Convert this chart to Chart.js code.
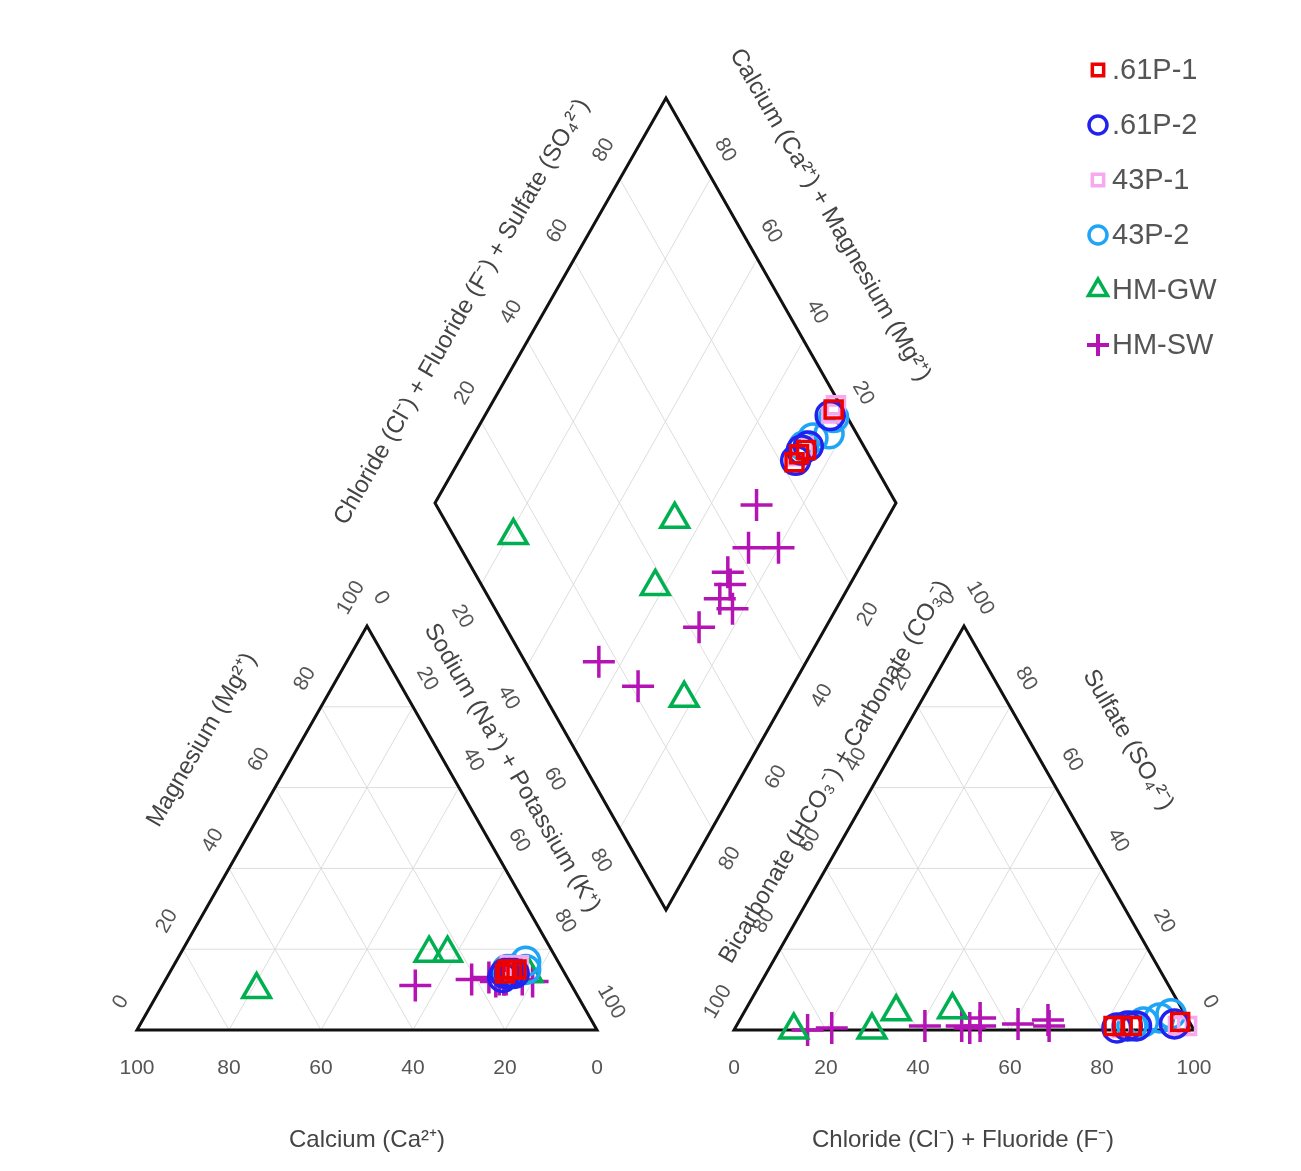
<!DOCTYPE html>
<html><head><meta charset="utf-8">
<script src="https://cdn.jsdelivr.net/npm/chart.js@4"></script>
<style>html,body{margin:0;padding:0;background:#fff}#wrap{width:1301px;height:1171px}</style>
</head><body><div id="wrap"><canvas id="c"></canvas></div>
<script>
// ---- data (fractions in %) ----
const seriesNames = ['.61P-1','.61P-2','43P-1','43P-2','HM-GW','HM-SW'];
// cations
const ca_61P1=[12,13,11,10], mg_61P1=[15,14,15,15], na_61P1=[73,73,74,75];
const ca_61P2=[13,14,12,11], mg_61P2=[14,13,14,14], na_61P2=[73,73,74,75];
const ca_43P1=[10,12,11,9],  mg_43P1=[15,15,16,16], na_43P1=[75,73,73,75];
const ca_43P2=[7,8,12,11],   mg_43P2=[17,15,15,15], na_43P2=[76,77,73,74];
const ca_GW=[69,27,23,8],    mg_GW=[10,19,19,14],   na_GW=[21,54,58,78];
const ca_SW=[17,14,8,16,13.5,14,10,15,34,21];
const mg_SW=[13,12.5,12,12,12.5,12.5,12.5,12.5,11,12.5];
const na_SW=[70,73.5,80,72,74,73.5,77.5,72.5,55,66.5];
// anions
const cl_61P1=[84,82,86,96], so4_61P1=[1,1,1,2], hco3_61P1=[15,17,13,2];
const cl_61P2=[83,85,87,95], so4_61P2=[0.5,1,1,1.5], hco3_61P2=[16.5,14,12,3.5];
const cl_43P1=[96,84,86,98], so4_43P1=[1,0.5,1,1], hco3_43P1=[3,15.5,13,1];
const cl_43P2=[93,91,86,88], so4_43P2=[4,3,1,2], hco3_43P2=[3,6,13,10];
const cl_GW=[13,45,33,30],   so4_GW=[0,5,4.5,0], hco3_GW=[87,50,62.5,70];
const cl_SW=[67,61,68,52,53,49,51,41,16,21];
const so4_SW=[2.5,1.5,1,3,1,1,0.5,1,0,0.5];
const hco3_SW=[30.5,37.5,31,45,46,50,48.5,58,84,78.5];
const tickVals=[0,20,40,60,80,100];

// ---- geometry in chart units (scale = canvas px) ----
const CAT={L:[137,1030],R:[597,1030],A:[367,626]};
const AN={L:[734,1030],R:[1194,1030],A:[964,626]};
const DI={B:[666,910],R:[896,503],L:[435,503],T:[666,98]};
function tern(T,a,b,c){const s=a+b+c;a/=s;b/=s;c/=s;return {x:T.L[0]*a+T.R[0]*b+T.A[0]*c,y:T.L[1]*a+T.R[1]*b+T.A[1]*c};}
function dia(u,v){return {x:DI.B[0]+u*(DI.R[0]-DI.B[0])+v*(DI.L[0]-DI.B[0]),y:DI.B[1]+u*(DI.R[1]-DI.B[1])+v*(DI.L[1]-DI.B[1])};}
function pts(ca,mg,na,cl,so4,hco3){
  const out=[];
  ca.forEach((_,i)=>out.push(tern(CAT,ca[i],na[i],mg[i])));
  cl.forEach((_,i)=>out.push(tern(AN,hco3[i],cl[i],so4[i])));
  ca.forEach((_,i)=>{const cs=ca[i]+mg[i]+na[i],as=cl[i]+so4[i]+hco3[i];out.push(dia((cl[i]+so4[i])/as,(ca[i]+mg[i])/cs));});
  return out;
}
const styles=[
 {c:'#ee0000',s:'rect',r:12},{c:'#2222ee',s:'circle',r:14},{c:'#f7a8f0',s:'rect',r:12},
 {c:'#1ea5f5',s:'circle',r:14},{c:'#00b050',s:'triangle',r:16},{c:'#b414b4',s:'cross',r:16}];
const allData=[
 pts(ca_61P1,mg_61P1,na_61P1,cl_61P1,so4_61P1,hco3_61P1),
 pts(ca_61P2,mg_61P2,na_61P2,cl_61P2,so4_61P2,hco3_61P2),
 pts(ca_43P1,mg_43P1,na_43P1,cl_43P1,so4_43P1,hco3_43P1),
 pts(ca_43P2,mg_43P2,na_43P2,cl_43P2,so4_43P2,hco3_43P2),
 pts(ca_GW,mg_GW,na_GW,cl_GW,so4_GW,hco3_GW),
 pts(ca_SW,mg_SW,na_SW,cl_SW,so4_SW,hco3_SW)];
const FONT='"Liberation Sans", Arial, sans-serif';

const frame={id:'frame',beforeDatasetsDraw(ch){
  const g=ch.ctx,xs=ch.scales.x,ys=ch.scales.y;
  const P=p=>[xs.getPixelForValue(p.x!==undefined?p.x:p[0]),ys.getPixelForValue(p.y!==undefined?p.y:p[1])];
  const line=(a,b)=>{const A=P(a),B=P(b);g.beginPath();g.moveTo(A[0],A[1]);g.lineTo(B[0],B[1]);g.stroke();};
  g.save();
  g.strokeStyle='#dddddd';g.lineWidth=1;
  [CAT,AN].forEach(T=>{[20,40,60,80].forEach(k=>{
    line(tern(T,k,100-k,0),tern(T,k,0,100-k));
    line(tern(T,100-k,k,0),tern(T,0,k,100-k));
    line(tern(T,100-k,0,k),tern(T,0,100-k,k));
  });});
  [0.2,0.4,0.6,0.8].forEach(k=>{line(dia(k,0),dia(k,1));line(dia(0,k),dia(1,k));});
  g.strokeStyle='#111';g.lineWidth=3;g.lineJoin='miter';
  [CAT,AN].forEach(T=>{const a=P(T.L),b=P(T.R),c=P(T.A);g.beginPath();g.moveTo(...a);g.lineTo(...b);g.lineTo(...c);g.closePath();g.stroke();});
  {const a=P(DI.B),b=P(DI.R),c=P(DI.T),d=P(DI.L);g.beginPath();g.moveTo(...a);g.lineTo(...b);g.lineTo(...c);g.lineTo(...d);g.closePath();g.stroke();}
  // tick labels
  g.fillStyle='#555';g.font='21px '+FONT;g.textAlign='center';g.textBaseline='middle';
  const txt=(s,p,off,rot)=>{const q=P(p);g.save();g.translate(q[0]+off[0],q[1]+off[1]);g.rotate(rot*Math.PI/180);g.fillText(s,0,0);g.restore();};
  const along=(a,b,t)=>({x:a[0]+(b[0]-a[0])*t,y:a[1]+(b[1]-a[1])*t});
  tickVals.forEach(v=>{
    const t=v/100;
    txt(String(100-v),along(CAT.L,CAT.R,t),[0,38],0);
    txt(String(v),along(CAT.L,CAT.A,t),[-16,-28],-60);
    txt(String(v),along(CAT.A,CAT.R,t),[14,-28],60);
    txt(String(v),along(AN.L,AN.R,t),[0,38],0);
    txt(String(100-v),along(AN.L,AN.A,t),[-16,-28],-60);
    txt(String(100-v),along(AN.A,AN.R,t),[16,-28],60);
    if(v>0&&v<100){
      txt(String(v),along(DI.L,DI.T,t),[-16,-29],-60);
      txt(String(v),along(DI.R,DI.T,t),[13,-29],60);
      txt(String(v),along(DI.L,DI.B,t),[-19,32],60);
      txt(String(v),along(DI.R,DI.B,t),[18,30],-60);
    }
  });
  g.font='24px '+FONT;g.fillStyle='#444';
  const T=(s,x,y,r)=>txt(s,[x,y],[0,0],r);
  T('Calcium (Ca²⁺)',367,1140,0);
  T('Chloride (Cl⁻) + Fluoride (F⁻)',963,1140,0);
  T('Magnesium (Mg²⁺)',202,740,-60);
  T('Sodium (Na⁺) + Potassium (K⁺)',512,768,60);
  T('Bicarbonate (HCO₃⁻) + Carbonate (CO₃⁻)',835,772,-60);
  T('Sulfate (SO₄²⁻)',1128,740,60);
  T('Chloride (Cl⁻) + Fluoride (F⁻) + Sulfate (SO₄²⁻)',462,312,-60);
  T('Calcium (Ca²⁺) + Magnesium (Mg²⁺)',830,215,60);
  g.restore();
},
afterDatasetsDraw(ch){
  const g=ch.ctx;g.save();
  seriesNames.forEach((n,i)=>{
    const y=70+i*55,st=styles[i];
    g.strokeStyle=st.c;g.fillStyle='rgba(0,0,0,0)';g.lineWidth=st.s==='cross'?4:3.5;
    Chart.helpers.drawPoint(g,{pointStyle:st.s,radius:st.s==='rect'?8:(st.s==='circle'?9:11),borderWidth:g.lineWidth},1098,y);
    g.fillStyle='#555';g.font='29px '+FONT;g.textAlign='left';g.textBaseline='middle';
    g.fillText(n,1112,y+1);
  });
  g.restore();
}};

new Chart(document.getElementById('c'),{
  type:'scatter',
  data:{datasets:allData.map((d,i)=>({label:seriesNames[i],data:d,pointStyle:styles[i].s,pointRadius:styles[i].r,
    pointHoverRadius:styles[i].r,borderColor:styles[i].c,backgroundColor:'rgba(0,0,0,0)',pointBorderWidth:3.5}))},
  options:{responsive:true,maintainAspectRatio:false,animation:false,
    layout:{padding:0,autoPadding:false},
    plugins:{legend:{display:false},tooltip:{enabled:false}},
    scales:{x:{type:'linear',min:0,max:1301,display:false},y:{type:'linear',min:0,max:1171,reverse:true,display:false}}},
  plugins:[frame]
});
</script></body></html>
